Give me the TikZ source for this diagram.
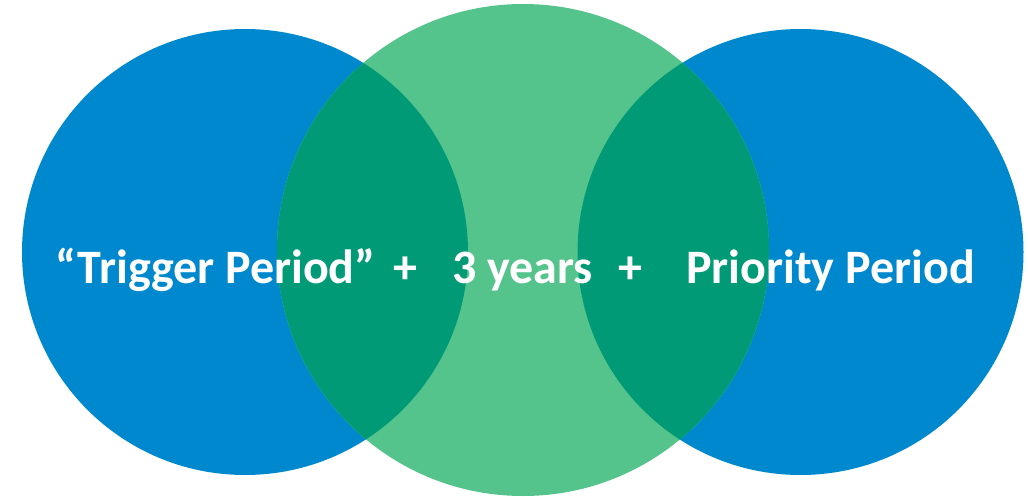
\documentclass[tikz,border=0pt]{standalone}
\usepackage{fontspec}
\setmainfont{Carlito}
\definecolor{cblue}{RGB}{0,136,207}
\definecolor{cgreen}{RGB}{85,196,140}
\definecolor{cteal}{RGB}{0,155,118}
\begin{document}
\begin{tikzpicture}[x=1pt,y=-1pt,
  lbl/.style={anchor=base west,inner sep=0pt,text=white,font=\bfseries\fontsize{48}{50}\selectfont}]
\useasboundingbox (0,0) rectangle (1028,497);
\fill[cblue] (245,252) circle (223);
\fill[cblue] (800.5,252) circle (223);
\fill[cgreen] (523,250) circle (246);
\begin{scope}
  \clip (245,252) circle (223);
  \fill[cteal] (523,250) circle (246);
\end{scope}
\begin{scope}
  \clip (800.5,252) circle (223);
  \fill[cteal] (523,250) circle (246);
\end{scope}
\node[lbl] (t1) at (55,283) {“Trigger Period”};
\node[lbl] (p1) at (393,283) {+};
\node[lbl] (t2) at (452,283) {3 years};
\node[lbl] (p2) at (618,283) {+};
\node[lbl] (t3) at (686,283) {Priority Period};
\end{tikzpicture}
\end{document}
